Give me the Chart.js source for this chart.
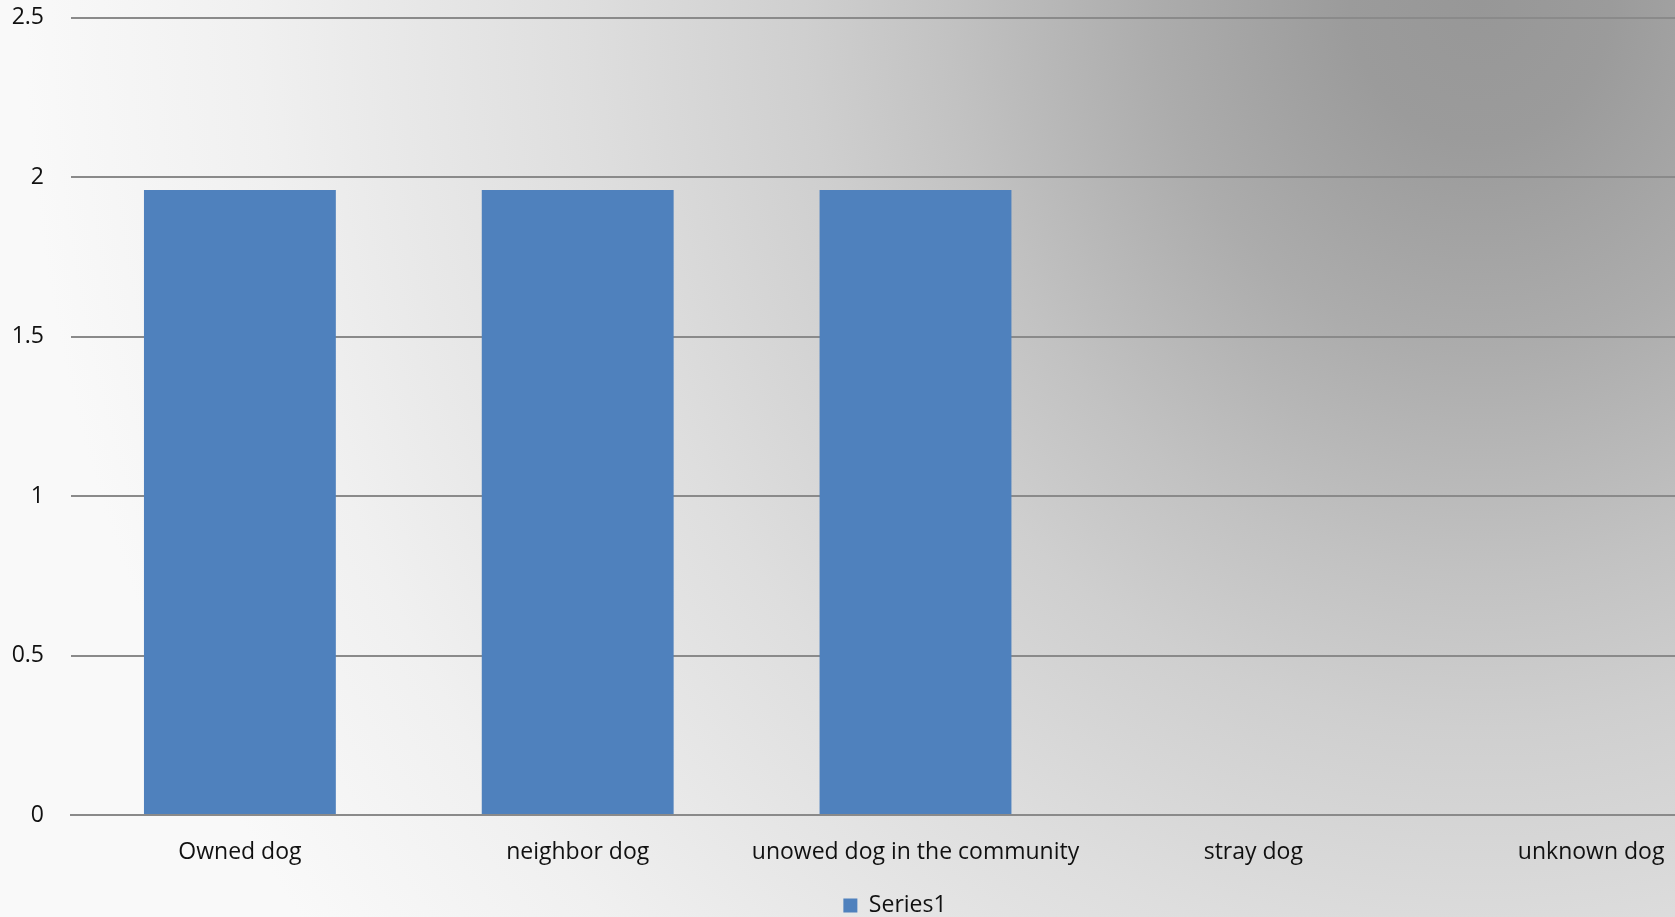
<!DOCTYPE html>
<html>
<head>
<meta charset="utf-8">
<script src="https://cdn.jsdelivr.net/npm/chart.js@4.4.1/dist/chart.umd.min.js"></script>
<style>
  html, body {
    margin: 0;
    padding: 0;
    width: 1675px;
    height: 917px;
    overflow: hidden;
  }
  body {
    background: radial-gradient(ellipse 1300px 1400px at 1480px 0px,
      #979797 0%, #9b9b9b 10%, #acacac 25%, #c2c2c2 41%, #cfcfcf 52%,
      #dedede 69%, #e8e8e8 83%, #f0f0f0 94%, #f9f9f9 112%);
  }
  /* the original chart is wider (and a bit taller) than the window, so it gets cropped */
  #wrap {
    position: absolute;
    left: 0;
    top: 0;
    width: 1790px;
    height: 927px;
  }
</style>
</head>
<body>
<div id="wrap"><canvas id="dogChart"></canvas></div>
<script>
const categories = ["Owned dog", "neighbor dog", "unowed dog in the community", "stray dog", "unknown dog"];
const series1 = [1.96, 1.96, 1.96, 0, 0];
const yTicks = [0, 0.5, 1, 1.5, 2, 2.5];

const labelFont = { family: "'Open Sans', 'Liberation Sans', sans-serif", size: 23 };
const gridColor = "#8a8a8a";

const ctx = document.getElementById("dogChart").getContext("2d");
const chart = new Chart(ctx, {
  type: "bar",
  data: {
    labels: categories,
    datasets: [{
      label: "Series1",
      data: series1,
      backgroundColor: "#4f81bd",
      borderWidth: 0,
      barPercentage: 0.568,
      categoryPercentage: 1
    }]
  },
  options: {
    responsive: false,
    maintainAspectRatio: false,
    animation: false,
    devicePixelRatio: 1,
    layout: { padding: 0 },
    plugins: {
      tooltip: { enabled: false },
      legend: {
        position: "bottom",
        labels: {
          color: "#111",
          font: labelFont,
          boxWidth: 14,
          boxHeight: 14,
          padding: 6
        }
      }
    },
    scales: {
      x: {
        grid: { display: false },
        border: { color: gridColor, width: 2 },
        ticks: { color: "#111", font: labelFont, padding: 16, maxRotation: 0, autoSkip: false },
        afterFit: scale => { scale.height = 73; }
      },
      y: {
        min: 0,
        max: 2.5,
        afterBuildTicks: scale => { scale.ticks = yTicks.map(v => ({ value: v })); },
        // invisible tick marks push the labels left without adding top padding
        grid: { color: gridColor, lineWidth: 2, drawTicks: true, tickLength: 23, tickColor: "rgba(0,0,0,0)" },
        border: { display: false },
        ticks: { color: "#111", font: labelFont, padding: 4, callback: v => String(v) },
        afterFit: scale => { scale.width = 71; }
      },
      // empty axis on the right, only to leave the same margin as the original
      yRight: {
        position: "right",
        min: 0,
        max: 2.5,
        grid: { display: false },
        border: { display: false },
        ticks: { display: false },
        afterFit: scale => { scale.width = 30; }
      }
    }
  }
});
chart.resize(1790, 927);
</script>
</body>
</html>
